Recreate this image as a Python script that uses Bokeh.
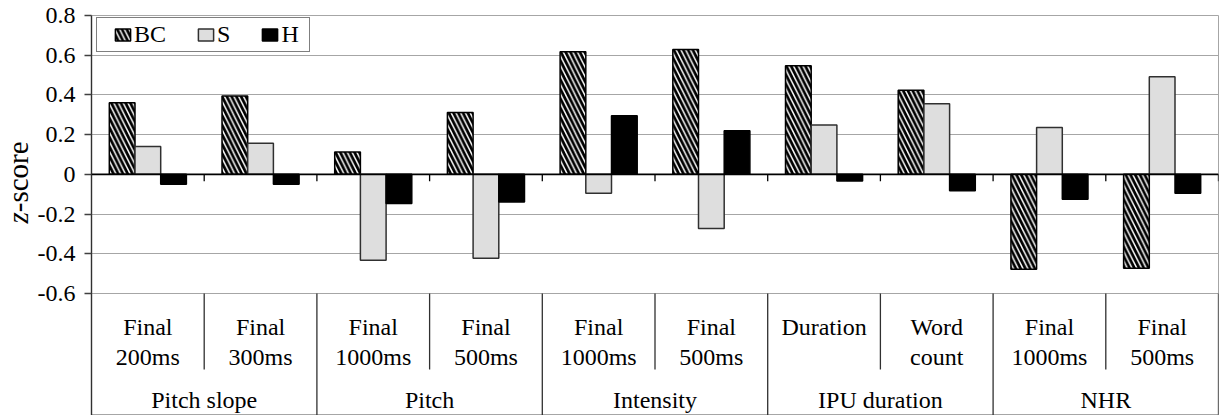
import math
import numpy as np
from bokeh.plotting import figure
from bokeh.layouts import row
from bokeh.models import Range1d, FixedTicker, Span, ColumnDataSource, Grid
from bokeh.core.properties import value
from bokeh.embed import file_html
from bokeh.resources import INLINE

# ---------------- data ----------------
groups = ["Pitch slope", "Pitch", "Intensity", "IPU duration", "NHR"]
subcats = ["Final\n200ms", "Final\n300ms", "Final\n1000ms", "Final\n500ms",
           "Final\n1000ms", "Final\n500ms", "Duration", "Word\ncount",
           "Final\n1000ms", "Final\n500ms"]
series_names = ["BC", "S", "H"]
bc_vals = [0.36, 0.395, 0.112, 0.311, 0.617, 0.629, 0.547, 0.424, -0.478, -0.473]
s_vals = [0.14, 0.157, -0.433, -0.422, -0.095, -0.273, 0.249, 0.355, 0.236, 0.491]
h_vals = [-0.05, -0.05, -0.147, -0.139, 0.295, 0.219, -0.033, -0.083, -0.125, -0.095]
y_ticks = [-0.6, -0.4, -0.2, 0, 0.2, 0.4, 0.6, 0.8]
y_tick_labels = ["-0.6", "-0.4", "-0.2", "0", "0.2", "0.4", "0.6", "0.8"]
y_title_italic = "z"
y_title_rest = "-score"

# ---------------- layout ----------------
FONT = "Liberation Serif"
TITLE_W = 33          # strip holding the y title
AXIS_W = 58           # room for y tick labels
FRAME_W = 1127
CHART_H = 278         # height of the value area
BAND_H = 122          # category label band below it
TOP = 15
SHIFT = 9             # baseline correction of text glyphs, px
n = len(subcats)
per_group = n // len(groups)
y_lo, y_hi = y_ticks[0], y_ticks[-1]
ppx = FRAME_W / n
ppy = CHART_H / (y_hi - y_lo)
y_bottom = y_lo - BAND_H / ppy
yr = Range1d(y_bottom, y_hi)

p = figure(frame_width=FRAME_W, frame_height=CHART_H + BAND_H,
           x_range=Range1d(0, n), y_range=yr,
           x_axis_location=None,
           output_backend="svg", toolbar_location=None,
           min_border_left=AXIS_W, min_border_right=2, min_border_top=TOP, min_border_bottom=0)
p.background_fill_color = "white"
p.border_fill_color = "white"
p.outline_line_color = "#a6a6a6"
p.outline_line_width = 1

# grid: horizontal lines only
for g in p.center:
    if isinstance(g, Grid):
        if g.dimension == 0:
            g.visible = False
        else:
            g.ticker = FixedTicker(ticks=y_ticks)
            g.grid_line_color = "#a6a6a6"
            g.grid_line_width = 1

# bars
centers = np.arange(n) + 0.5
bw = 0.228
src = ColumnDataSource(dict(x_bc=centers - bw, x_s=centers, x_h=centers + bw,
                            bc=bc_vals, s=s_vals, h=h_vals))
p.vbar(x="x_bc", top="bc", bottom=0, width=bw, source=src,
       fill_color="white", hatch_pattern="\\", hatch_color="black",
       hatch_scale=9.5, hatch_weight=2.8,
       line_color="black", line_width=1.5, legend_label=series_names[0])
p.vbar(x="x_s", top="s", bottom=0, width=bw, source=src,
       fill_color="#dedede", line_color="#303030", line_width=1.5,
       legend_label=series_names[1])
p.vbar(x="x_h", top="h", bottom=0, width=bw, source=src,
       fill_color="black", line_color="black", line_width=1.5,
       legend_label=series_names[2])

# zero line and its small ticks
p.add_layout(Span(location=0, dimension="width", line_color="black", line_width=1.8))
bounds = np.arange(1, n + 1)
p.segment(x0=bounds, y0=np.zeros(n), x1=bounds, y1=np.full(n, -7 / ppy),
          line_color="black", line_width=1.3)

# y axis
ya = p.yaxis[0]
ya.ticker = FixedTicker(ticks=y_ticks)
ya.major_label_overrides = {t: l for t, l in zip(y_ticks, y_tick_labels)}
ya.major_label_text_font = FONT
ya.major_label_text_font_size = "24px"
ya.major_label_text_color = "black"
ya.major_tick_in = 0
ya.major_tick_out = 7
ya.major_label_standoff = 9
ya.minor_tick_line_color = None
ya.axis_line_color = "#303030"
ya.axis_line_width = 1.4
ya.major_tick_line_color = "#404040"
ya.major_tick_line_width = 1.3

# category separators in the label band
group_bounds = np.arange(per_group, n + 1, per_group)
sub_bounds = np.array([b for b in range(1, n) if b % per_group != 0])
p.segment(x0=group_bounds, y0=np.full(len(group_bounds), y_lo),
          x1=group_bounds, y1=np.full(len(group_bounds), y_bottom),
          line_color="#303030", line_width=1.3)
p.segment(x0=sub_bounds, y0=np.full(len(sub_bounds), y_lo),
          x1=sub_bounds, y1=np.full(len(sub_bounds), y_lo - 76 / ppy),
          line_color="#303030", line_width=1.3)

# category labels
line1 = [s.split("\n")[0] for s in subcats]
line2 = [s.split("\n")[1] if "\n" in s else "" for s in subcats]
txt = dict(text_font=value(FONT), text_font_size="24px", text_color="black",
           text_align="center", text_baseline="alphabetic")
p.text(x=centers, y=np.full(n, y_lo - (42 - SHIFT) / ppy), text=line1, **txt)
p.text(x=centers, y=np.full(n, y_lo - (72 - SHIFT) / ppy), text=line2, **txt)
g_centers = np.arange(len(groups)) * per_group + per_group / 2
p.text(x=g_centers, y=np.full(len(groups), y_lo - (115 - SHIFT) / ppy), text=groups, **txt)

# legend
lg = p.legend[0]
lg.orientation = "horizontal"
lg.spacing = 30
lg.label_standoff = 2
lg.label_width = 0
lg.glyph_width = 19
lg.glyph_height = 15
lg.label_text_font = FONT
lg.label_text_font_size = "24px"
lg.label_text_color = "black"
lg.border_line_color = "black"
lg.border_line_width = 1.5
lg.background_fill_alpha = 1.0
lg.margin = 0
legend_bottom_px = 52 - TOP          # legend box bottom, below frame top
try:
    lg.padding = dict(left=16, right=10, top=3, bottom=3)
    box_left = 5
except Exception:
    lg.padding = 2
    box_left = 12
lg.location = (box_left, CHART_H + BAND_H - legend_bottom_px)

# y title strip (shares the y scale)
ft = figure(frame_width=TITLE_W, frame_height=CHART_H + BAND_H,
            x_range=Range1d(0, TITLE_W), y_range=yr,
            x_axis_location=None, y_axis_location=None,
            output_backend="svg", toolbar_location=None,
            min_border_left=0, min_border_right=0, min_border_top=TOP, min_border_bottom=0)
ft.outline_line_color = None
for g in ft.center:
    if isinstance(g, Grid):
        g.visible = False
YT_SIZE = 29
yt_x = 26.5 - SHIFT
yt_y = y_hi - (223 - TOP) / ppy
ft.text(x=[yt_x], y=[yt_y], text=[y_title_italic], angle=math.pi / 2,
        text_font=value(FONT), text_font_style="italic",
        text_font_size=f"{YT_SIZE}px", text_color="black",
        text_align="left", text_baseline="alphabetic")
ft.text(x=[yt_x], y=[yt_y + 0.389 * YT_SIZE / ppy], text=[y_title_rest], angle=math.pi / 2,
        text_font=value(FONT),
        text_font_size=f"{YT_SIZE}px", text_color="black",
        text_align="left", text_baseline="alphabetic")

layout = row(ft, p)
open("out.html", "w").write(file_html(layout, INLINE))
